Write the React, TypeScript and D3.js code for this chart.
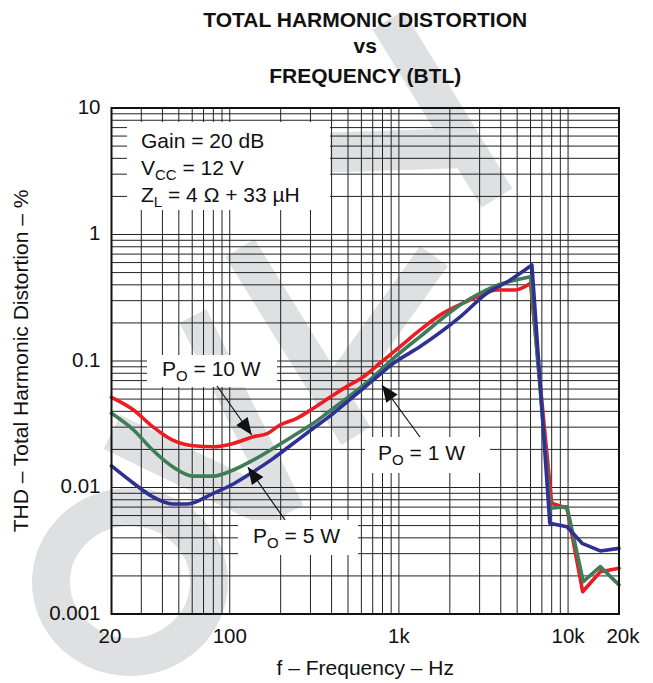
import React from "react";
import * as d3 from "d3";

// ---- data ----
const FREQ_10W = [20, 27, 35, 46, 61, 80, 105, 138, 165, 198, 249, 312, 410, 491, 617, 774, 1016, 1335, 1826, 2398, 2900, 3800, 4870, 6000, 8000, 9850, 12200, 15500, 20000];
const THD_10W = [0.0516, 0.041, 0.0303, 0.0237, 0.0214, 0.021, 0.0223, 0.0252, 0.0265, 0.0312, 0.0352, 0.0423, 0.0538, 0.0627, 0.0751, 0.0964, 0.13, 0.176, 0.239, 0.287, 0.321, 0.364, 0.364, 0.411, 0.0075, 0.00685, 0.0015, 0.00216, 0.0023];

const FREQ_5W = [20, 27, 35, 46, 61, 80, 105, 138, 181, 237, 312, 410, 538, 706, 928, 1335, 2398, 3608, 6000, 7850, 9850, 12300, 15500, 20000];
const THD_5W = [0.0386, 0.0285, 0.0198, 0.0146, 0.0123, 0.0123, 0.01375, 0.0165, 0.0204, 0.0255, 0.0322, 0.0423, 0.0556, 0.0751, 0.105, 0.156, 0.287, 0.385, 0.464, 0.00685, 0.00705, 0.0018, 0.00237, 0.0017];

const FREQ_1W = [20, 27, 35, 46, 56, 80, 105, 138, 181, 237, 312, 410, 538, 706, 928, 1335, 2302, 3310, 4550, 6112, 7800, 9850, 12100, 15500, 20000];
const THD_1W = [0.0148, 0.0108, 0.00845, 0.0074, 0.0074, 0.009, 0.01066, 0.01333, 0.017, 0.0223, 0.0294, 0.0386, 0.0522, 0.0708, 0.0959, 0.13, 0.223, 0.343, 0.437, 0.574, 0.00521, 0.0049, 0.00362, 0.00315, 0.0033];

const X_TICKS = [20, 100, 1000, 10000, 20000];
const X_TICK_LABELS = ["20", "100", "1k", "10k", "20k"];
const Y_TICKS = [0.001, 0.01, 0.1, 1, 10];
const Y_TICK_LABELS = ["0.001", "0.01", "0.1", "1", "10"];

const TITLE_LINES = ["TOTAL HARMONIC DISTORTION", "vs", "FREQUENCY (BTL)"];
const X_LABEL = "f \u2013 Frequency \u2013 Hz";
const Y_LABEL = "THD \u2013 Total Harmonic Distortion \u2013 %";

// ---- layout ----
const W = 653;
const H = 683;
const PLOT = { left: 111.5, right: 619, top: 108, bottom: 614 };
const FONT = "'Liberation Sans', Arial, Helvetica, sans-serif";
const COLORS = { red: "#ed1c24", green: "#3f7d59", blue: "#2e3192" };
const WATERMARK = "#dfe0e2";

const SERIES = [
  { key: "10W", f: FREQ_10W, v: THD_10W, color: COLORS.red },
  { key: "5W", f: FREQ_5W, v: THD_5W, color: COLORS.green },
  { key: "1W", f: FREQ_1W, v: THD_1W, color: COLORS.blue },
];

// annotation callouts: tip anchored on data coords (freq, thd)
const CALLOUTS = [
  { watts: "10", box: [147, 355, 130, 32], text: [162, 376], from: [217, 386], tip: [135, 0.026] },
  { watts: "5", box: [238, 520, 120, 35], text: [253, 543], from: [285, 520], tip: [128, 0.0145] },
  { watts: "1", box: [365, 437, 125, 36], text: [378, 460], from: [420, 437], tip: [794, 0.0646] },
];

// background watermark strokes (page decoration)
const WM_STROKES = [
  { p: [[388, 20], [497, 198]], w: 36 },
  { p: [[466, 148], [285, 154]], w: 40 },
  { p: [[240, 248], [356, 436]], w: 34 },
  { p: [[434, 256], [338, 390]], w: 34 },
  { p: [[193, 316], [290, 512]], w: 30 },
  { p: [[112, 432], [286, 516]], w: 38 },
];

export default function App() {
  const x = d3.scaleLog().domain([20, 20000]).range([PLOT.left, PLOT.right]);
  const y = d3.scaleLog().domain([0.001, 10]).range([PLOT.bottom, PLOT.top]);
  const xGrid = x.ticks();
  const yGrid = y.ticks();

  const seriesPath = (fs: number[], vs: number[]) => {
    const pts: [number, number][] = fs.map((f, i) => [x(f), y(vs[i])]);
    const k = d3.maxIndex(vs);
    const smooth = d3.line().curve(d3.curveMonotoneX)(pts.slice(0, k + 1)) || "";
    const rest = d3.line()(pts.slice(k)) || "";
    return smooth + rest.replace(/^M/, "L");
  };

  const arrowHead = (fx: number, fy: number, tx: number, ty: number) => {
    const ang = Math.atan2(ty - fy, tx - fx);
    const len = 17;
    const half = 7;
    const bx = tx - len * Math.cos(ang);
    const by = ty - len * Math.sin(ang);
    const px = -Math.sin(ang) * half;
    const py = Math.cos(ang) * half;
    return `M${tx},${ty}L${bx + px},${by + py}L${bx - px},${by - py}Z`;
  };

  return (
    <svg
      width={W}
      height={H}
      viewBox={`0 0 ${W} ${H}`}
      style={{ position: "absolute", left: 0, top: 0, background: "#fff" }}
      fontFamily={FONT}
    >
      <rect x={0} y={0} width={W} height={H} fill="#fff" />

      {/* watermark */}
      <g fill="none" stroke={WATERMARK}>
        <ellipse cx={130} cy={582} rx={79} ry={75} strokeWidth={38} />
        {WM_STROKES.map((s, i) => (
          <path key={"wm" + i} d={d3.line()(s.p as [number, number][]) || ""} strokeWidth={s.w} />
        ))}
      </g>

      {/* grid */}
      <g stroke="#222" strokeWidth={1}>
        {xGrid.map((t) => (
          <line key={"gx" + t} x1={x(t)} x2={x(t)} y1={PLOT.top} y2={PLOT.bottom} />
        ))}
        {yGrid.map((t) => (
          <line key={"gy" + t} x1={PLOT.left} x2={PLOT.right} y1={y(t)} y2={y(t)} />
        ))}
      </g>

      {/* info box */}
      <rect x={127} y={122} width={203} height={88} fill="#fff" />
      <g fontSize={21} fill="#111">
        <text x={141} y={147.5}>Gain = 20 dB</text>
        <text x={141} y={174.5}>
          V<tspan fontSize={15} dy={5}>CC</tspan>
          <tspan dy={-5}> = 12 V</tspan>
        </text>
        <text x={141} y={201.5}>
          Z<tspan fontSize={15} dy={5}>L</tspan>
          <tspan dy={-5}> = 4 {"\u03A9"} + 33 {"\u00B5"}H</tspan>
        </text>
      </g>

      {/* callout boxes */}
      {CALLOUTS.map((c) => (
        <rect key={"b" + c.watts} x={c.box[0]} y={c.box[1]} width={c.box[2]} height={c.box[3]} fill="#fff" />
      ))}

      {/* series */}
      <g fill="none" strokeWidth={3.6} strokeLinejoin="round" strokeLinecap="round">
        {SERIES.map((s) => (
          <path key={s.key} d={seriesPath(s.f, s.v)} stroke={s.color} />
        ))}
      </g>

      {/* callouts */}
      {CALLOUTS.map((c) => {
        const tx = x(c.tip[0]);
        const ty = y(c.tip[1]);
        return (
          <g key={"c" + c.watts}>
            <line x1={c.from[0]} y1={c.from[1]} x2={tx} y2={ty} stroke="#111" strokeWidth={1.2} />
            <path d={arrowHead(c.from[0], c.from[1], tx, ty)} fill="#111" />
            <text x={c.text[0]} y={c.text[1]} fontSize={21} fill="#111">
              P<tspan fontSize={15} dy={5}>O</tspan>
              <tspan dy={-5}> = {c.watts} W</tspan>
            </text>
          </g>
        );
      })}

      {/* frame */}
      <rect
        x={PLOT.left}
        y={PLOT.top}
        width={PLOT.right - PLOT.left}
        height={PLOT.bottom - PLOT.top}
        fill="none"
        stroke="#111"
        strokeWidth={2}
      />

      {/* tick labels */}
      <g fontSize={20.5} fill="#111">
        {Y_TICKS.map((t, i) => (
          <text key={"yl" + t} x={PLOT.left - 11} y={y(t) + 5.5} textAnchor="end">
            {Y_TICK_LABELS[i]}
          </text>
        ))}
        {X_TICKS.map((t, i) => (
          <text
            key={"xl" + t}
            x={x(t)}
            dx={i === X_TICKS.length - 1 ? 4 : i === 0 ? -1.5 : 0}
            y={643}
            textAnchor="middle"
          >
            {X_TICK_LABELS[i]}
          </text>
        ))}
      </g>

      {/* axis titles */}
      <text x={(PLOT.left + PLOT.right) / 2} y={675} textAnchor="middle" fontSize={21} fill="#111">
        {X_LABEL}
      </text>
      <text
        transform={`translate(28,${(PLOT.top + PLOT.bottom) / 2}) rotate(-90)`}
        textAnchor="middle"
        fontSize={21}
        fill="#111"
      >
        {Y_LABEL}
      </text>

      {/* title */}
      <g fontSize={21} fontWeight="bold" fill="#111" textAnchor="middle">
        {TITLE_LINES.map((t, i) => (
          <text key={t} x={(PLOT.left + PLOT.right) / 2} y={[26.5, 53, 82.5][i]}>
            {t}
          </text>
        ))}
      </g>
    </svg>
  );
}
